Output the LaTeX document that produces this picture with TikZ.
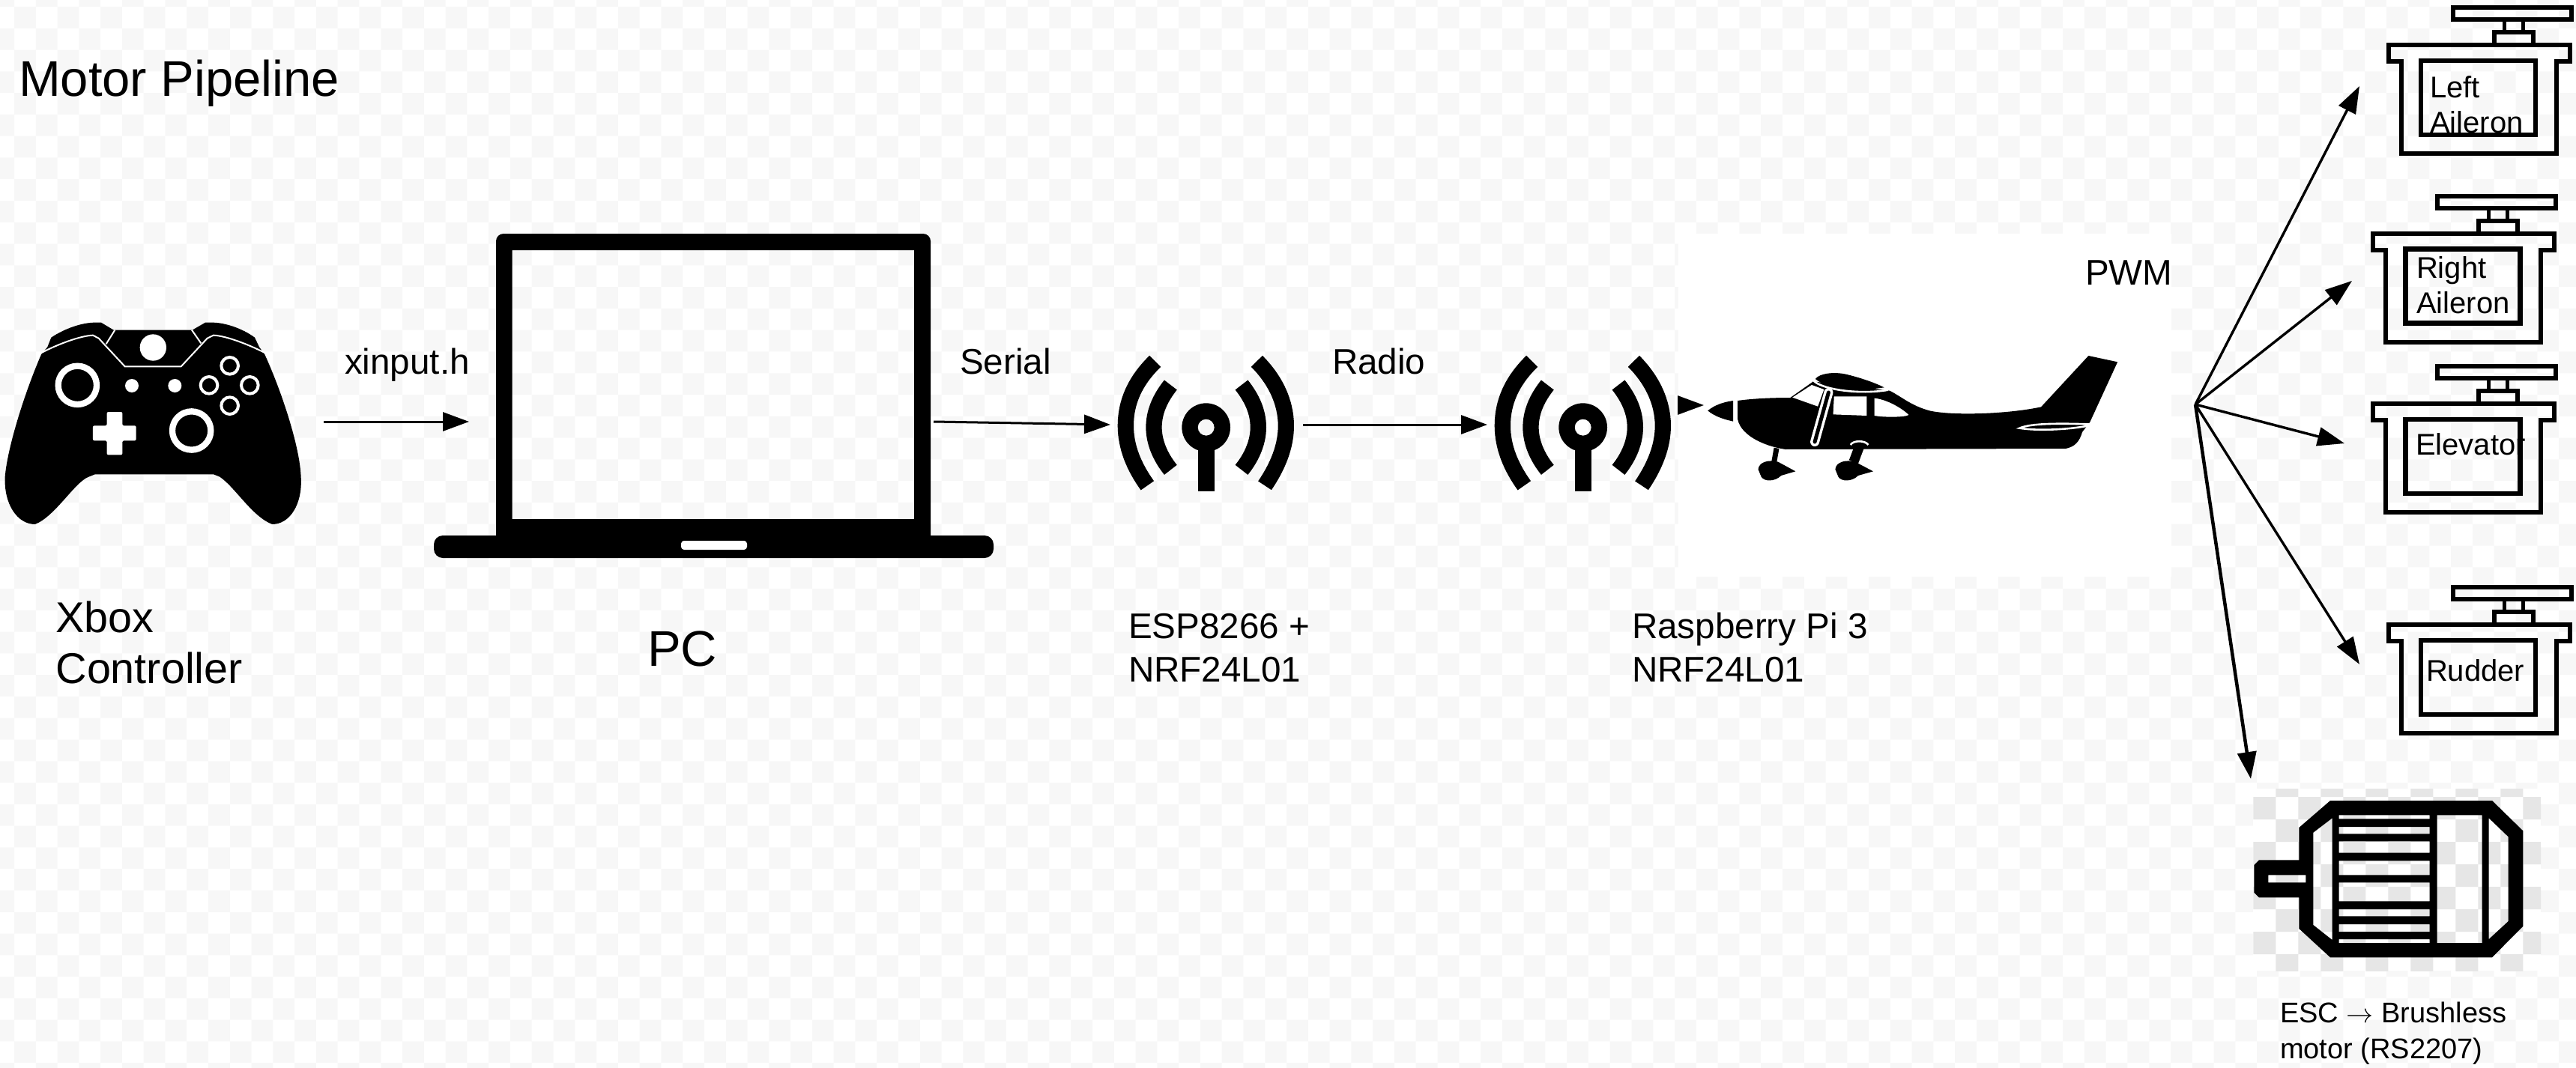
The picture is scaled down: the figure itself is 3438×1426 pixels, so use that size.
\documentclass[tikz,border=0pt]{standalone}
\usepackage{fontspec}
\setmainfont{Liberation Sans}
\usetikzlibrary{arrows.meta,fit}
\definecolor{bgchk}{HTML}{F7F7F7}
\definecolor{motorchk}{HTML}{E6E6E6}
\tikzset{
  region/.style={inner sep=0pt,outer sep=0pt,draw=none,fill=none},
  flow/.style={line width=3pt,-{Triangle[length=35pt,width=25pt]}},
  fan/.style={line width=3.4pt,-{Triangle[length=36pt,width=25pt]}},
  servoline/.style={line width=6pt,miter limit=10},
  lab/.style={inner sep=0pt,outer sep=0pt,anchor=base west,align=left},
  big/.style={font=\fontsize{67}{67}\selectfont},
  mid/.style={font=\fontsize{57.5}{68}\selectfont},
  reg/.style={font=\fontsize{47.6}{58}\selectfont},
  small/.style={font=\fontsize{40}{47}\selectfont},
  tiny/.style={font=\fontsize{38}{48}\selectfont}
}
% servo icon, drawn at the place of the left-aileron one and shifted
\newcommand{\servoicon}[2]{%
  \begin{scope}[shift={(#1,#2)}]
    \draw[servoline] (3274,10) rectangle (3432,26);
    \draw[line width=5pt] (3342,29) -- (3342,40) (3367,29) -- (3367,40);
    \draw[servoline] (3329,43) rectangle (3381,60);
    \draw[servoline] (3188,60) -- (3430,60) -- (3430,82) -- (3412,82) -- (3412,205)
      -- (3205,205) -- (3205,82) -- (3188,82) -- cycle;
    \draw[line width=6.5pt] (3231,81) rectangle (3384,180);
  \end{scope}}
% antenna icon
\newcommand{\antennaicon}[1]{%
  \begin{scope}[shift={(#1,440)},x=0.33333pt,y=-0.33333pt]
    \fill[even odd rule] (449,392) circle[radius=97] (449,392) circle[radius=33];
    \fill (417,470) rectangle (482,648);
    \draw[line width=21.3pt]
      (245,127) .. controls (165,205) and (127,290) .. (127,385)
      .. controls (127,470) and (160,550) .. (214,625);
    \draw[line width=21.3pt]
      (652,127) .. controls (725,200) and (769,290) .. (769,385)
      .. controls (769,470) and (735,550) .. (684,625);
    \draw[line width=21.3pt]
      (307,222) .. controls (265,275) and (240,330) .. (240,392)
      .. controls (240,450) and (265,510) .. (307,562);
    \draw[line width=21.3pt]
      (591,222) .. controls (633,275) and (658,330) .. (658,392)
      .. controls (658,450) and (633,510) .. (591,562);
  \end{scope}}
\begin{document}
\begin{tikzpicture}[x=1pt,y=-1pt]
\useasboundingbox (0,0) rectangle (3438,1426);
% faint checkerboard backdrop
\begin{scope}
  \clip (0,0) rectangle (3438,1426);
  \fill[bgchk]
    \foreach \i in {-1,0,...,119} {
      \foreach \j in {-1,1,...,49} {
        ({19+\i*28.78},{9+(\j+mod(\i+1,2)+0)*28.78}) rectangle ++(28.78,28.78)
      }
    };
\end{scope}
% white image panels
\fill[white] (2240,312) rectangle (2898,770);
\fill[white] (3007,1053) rectangle (3391,1296);
\begin{scope}
  \clip (3007,1053) rectangle (3391,1296);
  \fill[motorchk]
    \foreach \i in {0,...,12} {
      \foreach \j in {-1,...,7} {
        \ifodd\numexpr\i+\j+2\relax\else
        ({3007.3+\i*30},{1064+\j*30}) rectangle ++(30,30)
        \fi
      }
    };
\end{scope}

% invisible regions that the connectors attach to
\node[region,fit={(0,330)(432,796)}] (ctrl) {};
\node[region,fit={(626,312)(1246,814)}] (laptop) {};
\node[region,fit={(1482,368)(1739,766)}] (ant1) {};
\node[region,fit={(1985,368)(2240,766)}] (ant2) {};
\node[region,fit={(2274,305)(2898,777)}] (plane) {};
\coordinate (hub) at (2930,540);
\node[region,fit={(3149,115)(3438,225)}] (servoL) {};
\node[region,fit={(3139,375)(3438,460)}] (servoR) {};
\node[region,fit={(3129,592)(3438,680)}] (servoE) {};
\node[region,fit={(3149,887)(3438,980)}] (servoRud) {};
\node[region,fit={(3004,1040)(3391,1296)}] (motor) {};

% connectors
\draw[flow] (ctrl.east) -- (laptop.west);
\draw[flow] (laptop.east) -- (ant1.west);
\draw[flow] (ant1.east) -- (ant2.west);
\draw[flow] (ant2.east |- plane.west) -- (plane.west);
\draw[fan] (hub) -- (servoL.north west);
\draw[fan] (hub) -- (servoR.north west);
\draw[fan] (hub) -- (servoE.north west);
\draw[fan] (hub) -- (servoRud.north west);
\draw[fan,line width=4.5pt] (hub) -- (motor.north west);

% controller
\begin{scope}[shift={(0,380)},x=0.33333pt,y=-0.33333pt]
  \fill (165,280) -- (190,250) -- (205,212) .. controls (260,175) and (330,152) .. (380,152)
    -- (405,152) -- (455,182) -- (770,182) -- (822,152) -- (850,152)
    .. controls (900,152) and (970,175) .. (1020,212) -- (1038,250) -- (1060,280)
    .. controls (1120,410) and (1200,640) .. (1205,770)
    .. controls (1212,880) and (1160,960) .. (1090,960)
    .. controls (1010,930) and (940,810) .. (880,770)
    -- (855,760) -- (380,760) -- (355,770)
    .. controls (300,790) and (220,930) .. (140,960)
    .. controls (70,960) and (15,880) .. (20,770)
    .. controls (30,650) and (100,430) .. (165,280) -- cycle;
  \draw[white,line width=2pt]
    (168,272) .. controls (230,240) and (320,205) .. (372,203)
    -- (395,215) -- (500,328) -- (725,328) -- (830,215) -- (855,203)
    .. controls (905,205) and (995,240) .. (1058,272);
  \draw[white,line width=2pt] (425,238) -- (460,182) (805,235) -- (768,182);
  \fill[white] (613,252) circle[radius=53];
  \draw[white,line width=8.3pt] (310,403) circle[radius=77] (767,585) circle[radius=77];
  \fill[white] (528,405) circle[radius=27] (700,405) circle[radius=27];
  \draw[white,line width=4pt] (920,325) circle[radius=34] (837,403) circle[radius=34]
    (1000,403) circle[radius=34] (920,485) circle[radius=34];
  \fill[white,rounded corners=2pt] (428,510) -- (490,510) -- (490,565) -- (545,565) -- (545,625)
    -- (490,625) -- (490,682) -- (428,682) -- (428,625) -- (372,625) -- (372,565) -- (428,565) -- cycle;
\end{scope}

% laptop
\fill[even odd rule,rounded corners=10pt] (662,312) rectangle (1242,730)
  [sharp corners] (683.5,334) rectangle (1220,693);
\fill[rounded corners=12pt] (579,715) rectangle (1326,745);
\fill[white,rounded corners=4pt] (909,722) rectangle (997,734);

% antennas
\antennaicon{1460}
\antennaicon{1963}

% aeroplane
\begin{scope}[shift={(2220,420)},x=0.40816pt,y=-0.33333pt]
  \fill (145,385) .. controls (170,360) and (200,350) .. (228,345) -- (228,428)
    .. controls (200,420) and (170,410) .. (145,385) -- cycle;
  \fill (243,345) .. controls (300,335) and (370,333) .. (415,333) -- (490,268) -- (740,305)
    .. controls (780,330) and (810,365) .. (870,385)
    .. controls (940,405) and (1120,400) .. (1235,370)
    -- (1390,165) -- (1485,190) -- (1395,430) -- (1370,470)
    .. controls (1360,510) and (1345,530) .. (1315,537)
    -- (400,540) .. controls (340,530) and (255,490) .. (243,420) -- cycle;
  \fill[white] (422,332) -- (485,282) -- (525,300) -- (505,368) -- cycle;
  \fill[white] (558,328) -- (665,328) -- (665,405) -- (555,400) -- cycle;
  \fill[white] (690,335) .. controls (730,340) and (780,375) .. (802,402)
    .. controls (790,412) and (720,412) .. (690,405) -- cycle;
  \draw[white,line width=2.6pt] (492,266) .. controls (520,300) and (640,322) .. (735,302);
  \fill (497,258) .. controls (510,235) and (560,228) .. (600,240)
    .. controls (650,255) and (695,275) .. (722,292)
    .. controls (660,305) and (540,305) .. (497,258) -- cycle;
  \draw[white,line width=12pt,line cap=round] (540,312) -- (495,510);
  \draw[line width=5pt,line cap=round] (540,312) -- (495,510);
  \draw[white,line width=2.6pt] (1165,455) .. controls (1200,435) and (1300,435) .. (1405,440)
    .. controls (1370,455) and (1240,470) .. (1165,455) -- cycle;
  \draw[line width=7pt] (370,535) -- (362,590);
  \fill (310,620) .. controls (312,590) and (345,580) .. (375,590) -- (432,628)
    -- (385,645) .. controls (365,670) and (330,670) .. (320,650) -- cycle;
  \draw[line width=13pt] (642,525) -- (622,590);
  \draw[white,line width=2.6pt] (612,522) .. controls (620,503) and (660,503) .. (670,522);
  \fill (562,620) .. controls (564,590) and (597,580) .. (627,590) -- (686,628)
    -- (637,645) .. controls (617,670) and (582,670) .. (572,650) -- cycle;
\end{scope}

% servos
\servoicon{0}{0}
\servoicon{-20.7}{251.7}
\servoicon{-20.7}{479}
\servoicon{0}{774}

% electric motor
\begin{scope}[shift={(3000,1040)},x=0.33333pt,y=-0.33333pt]
  \fill[even odd rule]
    (205,195) -- (330,87) -- (978,87) -- (1102,208) -- (1102,590) -- (978,715) -- (330,715)
    -- (205,600) -- (205,475) -- (45,475) -- (25,455) -- (25,345) -- (45,325) -- (205,325) -- cycle
    (262,215) -- (338,157) -- (338,645) -- (262,585) -- cycle
    (965,157) -- (1043,232) -- (1043,570) -- (965,642) -- cycle
    (758,145) rectangle (938,657)
    (82,385) rectangle (232,415)
    (365,145) rectangle (728,160)
    (365,192) rectangle (728,220)
    (365,250) rectangle (728,296)
    (365,328) rectangle (728,385)
    (365,415) rectangle (728,490)
    (365,522) rectangle (728,550)
    (365,582) rectangle (728,612)
    (365,642) rectangle (728,657);
\end{scope}

% texts
\node[lab,big] (title) at (25,129) {Motor Pipeline};
\node[lab,mid] (xboxlabel) at (74.5,912) {Xbox\\Controller};
\node[lab,big] (pclabel) at (864,889) {PC};
\node[lab,reg] (xinputlabel) at (460,499) {xinput.h};
\node[lab,reg] (seriallabel) at (1281,499) {Serial};
\node[lab,reg] (radiolabel) at (1778,499) {Radio};
\node[lab,reg] (esplabel) at (1506,910) {ESP8266 +\\NRF24L01};
\node[lab,reg] (rpilabel) at (2178,910) {Raspberry Pi 3\\NRF24L01};
\node[lab,reg] (pwmlabel) at (2783,380) {PWM};
\node[lab,small] (leftlabel) at (3243,177) {Left\\Aileron};
\node[lab,small] (rightlabel) at (3225,418) {Right\\Aileron};
\node[lab,small] (elevlabel) at (3224,607) {Elevator};
\node[lab,small] (rudlabel) at (3238,909) {Rudder};
\node[lab,tiny] (esclabel) at (3043,1413) {ESC \scalebox{1.45}{$\rightarrow$} Brushless\\motor (RS2207)};
\end{tikzpicture}
\end{document}
